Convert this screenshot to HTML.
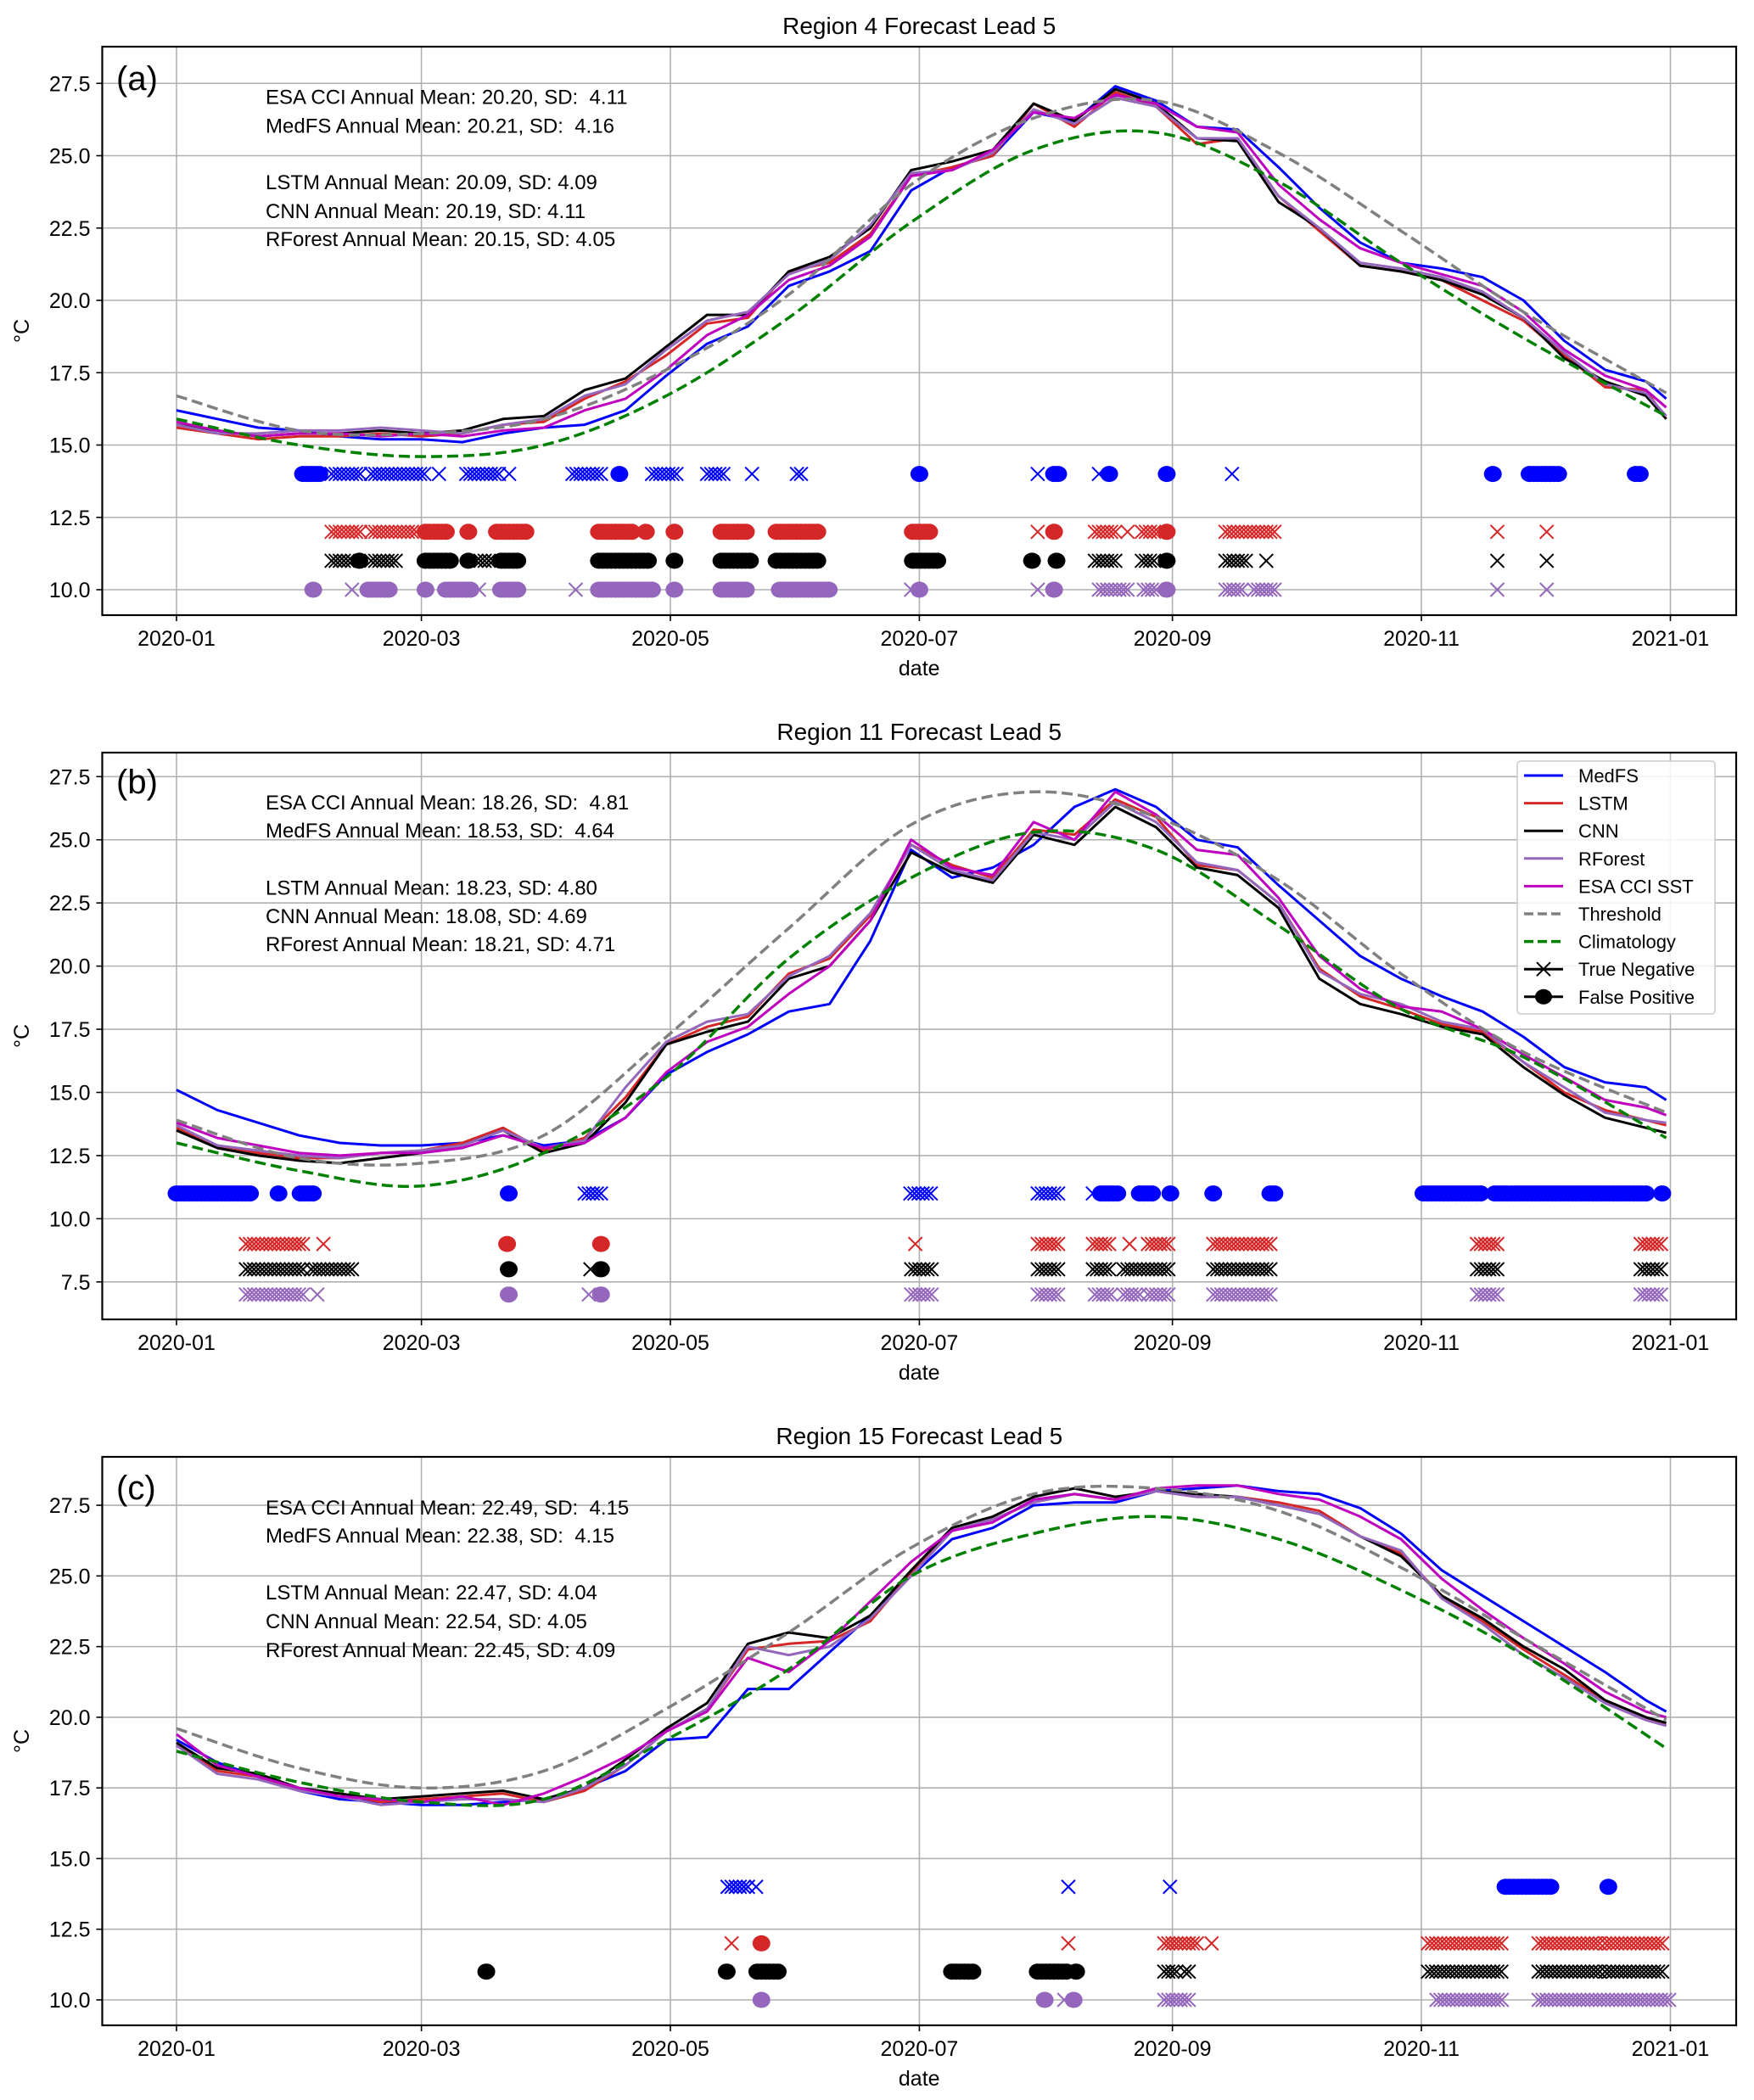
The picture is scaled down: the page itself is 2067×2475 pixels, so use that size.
<!DOCTYPE html>
<html><head><meta charset="utf-8"><style>
html,body{margin:0;padding:0;background:#fff}
svg{display:block}
text{font-family:"Liberation Sans","DejaVu Sans",sans-serif;fill:#000;white-space:pre}
</style></head><body>
<svg id="fig" width="2067" height="2475" viewBox="0 0 2067 2475" xmlns="http://www.w3.org/2000/svg" xml:space="preserve"></svg>
<script>
// ---------- data ----------
const days10 = [0,10,20,30,40,50,60,70,80,90,100,110,120,130,140,150,160,170,180,190,200,210,220,230,240,250,260,270,280,290,300,310,320,330,340,350,360,365];
const daysSmooth = [0,30,60,90,120,150,180,210,240,270,300,330,365];
const xTickDays = [0,60,121,182,244,305,366];
const xTickLabels = ["2020-01","2020-03","2020-05","2020-07","2020-09","2020-11","2021-01"];

const A_med = [16.2,15.9,15.6,15.5,15.3,15.2,15.2,15.1,15.4,15.6,15.7,16.2,17.4,18.5,19.1,20.5,21.0,21.7,23.8,24.6,25.0,26.5,26.2,27.4,26.9,26.0,25.9,24.6,23.2,22.0,21.3,21.1,20.8,20.0,18.6,17.6,17.2,16.6];
const A_lstm = [15.6,15.4,15.2,15.3,15.3,15.4,15.3,15.4,15.7,15.8,16.6,17.2,18.1,19.2,19.4,21.0,21.3,22.3,24.3,24.6,25.0,26.8,26.0,27.2,26.7,25.4,25.6,23.6,22.4,21.2,21.0,20.7,20.0,19.3,18.1,17.0,16.9,15.9];
const A_cnn = [15.7,15.5,15.3,15.4,15.4,15.5,15.4,15.5,15.9,16.0,16.9,17.3,18.4,19.5,19.5,21.0,21.5,22.5,24.5,24.8,25.2,26.8,26.2,27.3,26.8,25.6,25.5,23.4,22.5,21.2,21.0,20.7,20.2,19.4,18.0,17.2,16.7,15.9];
const A_rf = [15.7,15.4,15.4,15.5,15.5,15.6,15.5,15.4,15.7,15.9,16.7,17.1,18.3,19.3,19.6,20.9,21.4,22.6,24.4,24.5,25.1,26.6,26.1,27.0,26.7,25.6,25.6,23.6,22.5,21.3,21.1,20.8,20.3,19.4,18.2,17.1,16.8,16.0];
const A_esa = [15.8,15.5,15.3,15.4,15.4,15.3,15.4,15.3,15.5,15.6,16.2,16.6,17.6,18.8,19.5,20.7,21.2,22.2,24.3,24.5,25.2,26.5,26.3,27.1,26.8,26.0,25.8,24.0,22.8,21.8,21.3,20.9,20.5,19.6,18.3,17.4,16.9,16.3];
const A_thr = [16.7,15.5,15.4,15.9,17.6,20.2,24.0,26.3,26.9,25.1,22.4,19.6,16.8];
const A_clim = [15.9,15.0,14.6,15.0,16.7,19.4,22.7,25.2,25.8,24.1,21.3,18.7,16.0];

const B_med = [15.1,14.3,13.8,13.3,13.0,12.9,12.9,13.0,13.3,12.9,13.1,14.0,15.7,16.6,17.3,18.2,18.5,21.0,24.6,23.5,23.9,24.8,26.3,27.0,26.3,25.0,24.7,23.2,21.8,20.4,19.5,18.8,18.2,17.2,16.0,15.4,15.2,14.7];
const B_lstm = [13.6,12.9,12.6,12.4,12.4,12.6,12.7,13.0,13.6,12.7,13.2,14.8,16.9,17.6,18.0,19.7,20.3,22.0,24.8,24.0,23.5,25.4,25.2,26.6,25.9,24.0,23.8,22.5,19.9,18.8,18.3,17.7,17.4,16.2,15.0,14.3,13.9,13.7];
const B_cnn = [13.5,12.8,12.5,12.3,12.2,12.4,12.6,12.9,13.5,12.6,13.0,14.6,16.9,17.4,17.8,19.5,20.0,21.8,24.5,23.7,23.3,25.2,24.8,26.3,25.5,23.9,23.6,22.3,19.5,18.5,18.1,17.6,17.3,16.0,14.9,14.0,13.6,13.4];
const B_rf = [13.7,12.9,12.7,12.5,12.4,12.6,12.7,12.9,13.5,12.8,13.1,15.2,17.0,17.8,18.1,19.6,20.4,22.1,24.8,23.8,23.4,25.3,25.0,26.5,25.7,24.1,23.8,22.5,19.8,18.9,18.5,17.8,17.5,16.2,15.2,14.2,13.9,13.8];
const B_esa = [13.8,13.2,12.9,12.6,12.5,12.6,12.6,12.8,13.3,12.8,13.0,14.0,15.8,17.0,17.6,18.9,20.0,21.8,25.0,23.9,23.6,25.7,25.0,26.9,26.0,24.6,24.4,22.7,20.4,19.1,18.4,18.2,17.5,16.5,15.6,14.7,14.4,14.1];
const B_thr = [13.9,12.4,12.2,13.3,17.2,21.5,25.6,26.9,25.9,23.4,19.7,16.6,14.2];
const B_clim = [13.0,11.9,11.3,12.6,15.6,20.3,23.5,25.3,24.6,21.6,18.3,16.4,13.2];

const C_med = [19.2,18.4,17.9,17.4,17.1,17.0,16.9,16.9,17.0,17.1,17.5,18.1,19.2,19.3,21.0,21.0,22.3,23.6,25.0,26.3,26.7,27.5,27.6,27.6,28.0,28.1,28.2,28.0,27.9,27.4,26.5,25.2,24.3,23.4,22.5,21.6,20.6,20.2];
const C_lstm = [19.0,18.1,17.9,17.4,17.3,17.0,17.1,17.2,17.3,17.0,17.4,18.3,19.5,20.3,22.4,22.6,22.7,23.4,25.1,26.6,27.0,27.6,27.9,27.7,28.0,27.8,27.8,27.6,27.3,26.4,25.8,24.3,23.4,22.4,21.5,20.6,20.0,19.7];
const C_cnn = [19.1,18.2,18.0,17.5,17.3,17.1,17.2,17.3,17.4,17.1,17.5,18.5,19.6,20.5,22.6,23.0,22.8,23.6,25.2,26.7,27.1,27.8,28.1,27.8,28.0,27.9,27.8,27.5,27.2,26.4,25.7,24.3,23.5,22.5,21.7,20.6,20.0,19.8];
const C_rf = [19.0,18.0,17.8,17.4,17.2,16.9,17.0,17.1,17.1,17.0,17.5,18.3,19.5,20.3,22.5,22.2,22.5,23.5,25.0,26.6,27.0,27.6,27.9,27.7,28.0,27.8,27.8,27.5,27.2,26.4,25.9,24.2,23.3,22.2,21.4,20.5,19.9,19.7];
const C_esa = [19.4,18.3,17.9,17.5,17.2,17.1,17.0,17.2,16.9,17.3,17.9,18.6,19.5,20.2,22.1,21.6,22.7,24.1,25.5,26.6,26.9,27.7,27.9,27.7,28.1,28.2,28.2,27.9,27.7,27.1,26.3,24.9,23.8,22.8,21.9,20.9,20.2,20.0];
const C_thr = [19.6,18.2,17.5,18.1,20.3,23.0,26.0,27.9,28.1,27.3,25.3,22.8,19.9];
const C_clim = [18.8,17.7,17.0,17.1,19.2,21.7,25.0,26.5,27.1,26.3,24.5,22.2,18.9];

// marker rows: [startDay, endDay, type]
const A_blueEv = [[31,35.5,'o'],[38,45,'x'],[47.7,61.5,'x'],[64.3,64.3,'x'],[71,79,'x'],[81.5,81.5,'x'],[97,104,'x'],[108.5,108.5,'o'],[116.5,123,'x'],[130,134,'x'],[141,141,'x'],[152,153,'x'],[182,182,'o'],[211,211,'x'],[215,216.5,'o'],[226,226,'x'],[228.5,228.5,'o'],[242.6,242.6,'o'],[258.6,258.6,'x'],[322.5,322.5,'o'],[331.5,339,'o'],[357.5,358.5,'o']];
const A_redEv = [[38,45,'x'],[47.7,59.5,'x'],[61,66,'o'],[71.5,71.5,'o'],[78.5,85.5,'o'],[103.5,111.5,'o'],[115,115,'o'],[122,122,'o'],[133.5,139.5,'o'],[147,157.4,'o'],[180.4,185.2,'o'],[211,211,'x'],[215,215,'o'],[225,230,'x'],[233,233,'x'],[236.5,241,'x'],[242.6,242.6,'o'],[257,269.5,'x'],[323.6,323.6,'x'],[335.7,335.7,'x']];
const A_blackEv = [[38,43,'x'],[44.8,44.8,'o'],[47.7,54,'x'],[61,67,'o'],[71.5,71.5,'o'],[73.5,77.5,'x'],[79.5,84,'o'],[103.5,115.5,'o'],[122,122,'o'],[133.5,141,'o'],[147,157.4,'o'],[180.4,186.6,'o'],[209.6,209.6,'o'],[215.6,215.6,'o'],[225,230,'x'],[236.5,240,'x'],[242.6,242.6,'o'],[257,262,'x'],[267,267,'x'],[323.6,323.6,'x'],[335.7,335.7,'x']];
const A_purpleEv = [[33.5,33.5,'o'],[43,43,'x'],[47,52.5,'o'],[61,61,'o'],[66,72,'o'],[74.1,74.1,'x'],[79.5,84.2,'o'],[97.8,97.8,'x'],[103.5,116.5,'o'],[122,122,'o'],[133.5,139.5,'o'],[147.8,160,'o'],[180,180,'x'],[182,182,'o'],[211,211,'x'],[215,215,'o'],[226,233.5,'x'],[237,240.5,'x'],[242.6,242.6,'o'],[257,261.5,'x'],[264,269,'x'],[323.6,323.6,'x'],[335.7,335.7,'x']];

const B_blueEv = [[0,18.4,'o'],[25,25,'o'],[30.4,34,'o'],[81.4,81.4,'o'],[100,104.6,'x'],[179.8,185.2,'x'],[211,216,'x'],[224.5,224.5,'x'],[226.5,231.3,'o'],[236,239,'o'],[243.5,243.5,'o'],[254,254,'o'],[268,269,'o'],[305.5,320,'o'],[323,360,'o'],[364,364,'o']];
const B_redEv = [[17,31.5,'x'],[36,36,'x'],[81,81,'o'],[104,104,'o'],[181,181,'x'],[211,216,'x'],[224.5,229.3,'x'],[233.5,233.5,'x'],[238,243.7,'x'],[254,268.8,'x'],[318.6,324,'x'],[358.7,364.2,'x']];
const B_blackEv = [[17,31.5,'x'],[33,43.5,'x'],[81.4,81.4,'o'],[101.4,101.4,'x'],[104,104,'o'],[180,185,'x'],[211,216,'x'],[224.5,229.3,'x'],[232,237,'x'],[238,243.7,'x'],[254,268.8,'x'],[318.6,324,'x'],[358.7,364.2,'x']];
const B_purpleEv = [[17,31.5,'x'],[34.5,34.5,'x'],[81.4,81.4,'o'],[101,101,'x'],[104,104,'o'],[180,185,'x'],[211,216,'x'],[225,229.3,'x'],[232,236,'x'],[238,243.7,'x'],[254,268.8,'x'],[318.6,324,'x'],[358.7,364.2,'x']];

const C_blueEv = [[135,140,'x'],[142,142,'x'],[218.5,218.5,'x'],[243.4,243.4,'x'],[325.6,336.6,'o'],[350.8,350.8,'o']];
const C_redEv = [[136,136,'x'],[143.3,143.3,'o'],[218.5,218.5,'x'],[242,250,'x'],[253.6,253.6,'x'],[306.6,325,'x'],[333.7,348.8,'x'],[350,364.5,'x']];
const C_blackEv = [[75.9,75.9,'o'],[134.8,134.8,'o'],[142.3,148,'o'],[190,195,'o'],[211,218,'o'],[220.4,220.4,'o'],[242,245,'x'],[247,248.8,'x'],[306.6,325,'x'],[333.7,348.8,'x'],[350,364,'x']];
const C_purpleEv = [[143.3,143.3,'o'],[212.7,212.7,'o'],[217.5,217.5,'x'],[219.8,219.8,'o'],[242,248,'x'],[308.7,325,'x'],[333.7,366,'x']];

const A_yTicks = [10,12.5,15,17.5,20,22.5,25,27.5];
const B_yTicks = [7.5,10,12.5,15,17.5,20,22.5,25,27.5];
const C_yTicks = [10,12.5,15,17.5,20,22.5,25,27.5];
const A_rowVals = [14,12,11,10];
const B_rowVals = [11,9,8,7];
const C_rowVals = [14,12,11,10];

const A_text = ["ESA CCI Annual Mean: 20.20, SD:  4.11","MedFS Annual Mean: 20.21, SD:  4.16","LSTM Annual Mean: 20.09, SD: 4.09","CNN Annual Mean: 20.19, SD: 4.11","RForest Annual Mean: 20.15, SD: 4.05"];
const B_text = ["ESA CCI Annual Mean: 18.26, SD:  4.81","MedFS Annual Mean: 18.53, SD:  4.64","LSTM Annual Mean: 18.23, SD: 4.80","CNN Annual Mean: 18.08, SD: 4.69","RForest Annual Mean: 18.21, SD: 4.71"];
const C_text = ["ESA CCI Annual Mean: 22.49, SD:  4.15","MedFS Annual Mean: 22.38, SD:  4.15","LSTM Annual Mean: 22.47, SD: 4.04","CNN Annual Mean: 22.54, SD: 4.05","RForest Annual Mean: 22.45, SD: 4.09"];

// ---------- drawing ----------
const NS = "http://www.w3.org/2000/svg";
const svg = document.getElementById('fig');
const L = 120.5, R = 2046, X0 = 208, PXD = 4.81;
const COL = {med:'#0000ff', lstm:'#d62728', cnn:'#000000', rf:'#9467bd', esa:'#bf00bf', thr:'#808080', clim:'#008000'};
function xs(d){ return X0 + d*PXD; }
function mk(tag, attrs, parent){ const e = document.createElementNS(NS, tag); for (const k in attrs) e.setAttribute(k, attrs[k]); (parent||svg).appendChild(e); return e; }

function linePath(ds, vs, ys){ return ds.map((d,i)=>(i?'L':'M')+xs(d).toFixed(1)+','+ys(vs[i]).toFixed(1)).join(''); }
function smoothPath(ds, vs, ys){
  const p = ds.map((d,i)=>[xs(d), ys(vs[i])]);
  let s = 'M'+p[0][0].toFixed(1)+','+p[0][1].toFixed(1);
  for (let i=0;i<p.length-1;i++){
    const p0=p[Math.max(0,i-1)], p1=p[i], p2=p[i+1], p3=p[Math.min(p.length-1,i+2)];
    const c1=[p1[0]+(p2[0]-p0[0])/6, p1[1]+(p2[1]-p0[1])/6];
    const c2=[p2[0]-(p3[0]-p1[0])/6, p2[1]-(p3[1]-p1[1])/6];
    s += 'C'+c1[0].toFixed(1)+','+c1[1].toFixed(1)+' '+c2[0].toFixed(1)+','+c2[1].toFixed(1)+' '+p2[0].toFixed(1)+','+p2[1].toFixed(1);
  }
  return s;
}

function panel(cfg){
  const g = mk('g', {});
  
  
  const ys = v => cfg.yRef - (v - cfg.vRef)*cfg.ppu;
  cfg.yTicks.forEach(v=>{
    const gl = mk('line',{x1:L,x2:R,y1:ys(v),y2:ys(v),stroke:'#b0b0b0','stroke-width':1.6},g);
    
    
  });
  xTickDays.forEach(d=>{
    const gl = mk('line',{x1:xs(d),x2:xs(d),y1:cfg.top,y2:cfg.bottom,stroke:'#b0b0b0','stroke-width':1.6},g);
    
    
  });
  const series = [['med',cfg.med,'medfs-line'],['lstm',cfg.lstm,'lstm-line'],['cnn',cfg.cnn,'cnn-line'],['rf',cfg.rf,'rforest-line'],['esa',cfg.esa,'esa-cci-sst-line']];
  series.forEach(s=>{
    const p = mk('path',{d:linePath(days10,s[1],ys),fill:'none',stroke:COL[s[0]],'stroke-width':3,'stroke-linejoin':'round'},g);
    
    
  });
  const t = mk('path',{d:smoothPath(daysSmooth,cfg.thr,ys),fill:'none',stroke:COL.thr,'stroke-width':3.5,'stroke-dasharray':'13,6'},g);
  
  
  const c = mk('path',{d:smoothPath(daysSmooth,cfg.clim,ys),fill:'none',stroke:COL.clim,'stroke-width':3.5,'stroke-dasharray':'13,6'},g);
  
  
  const rows = [[cfg.blueEv,COL.med,'medfs-events'],[cfg.redEv,COL.lstm,'lstm-events'],[cfg.blackEv,COL.cnn,'cnn-events'],[cfg.purpleEv,COL.rf,'rforest-events']];
  rows.forEach((r,ri)=>{
    const rg = mk('g',{},g);
    
    
    const y = ys(cfg.rowVals[ri]);
    r[0].forEach(seg=>{
      for (let d=seg[0]; d<=seg[1]+0.001; d+=1){
        const x = xs(d);
        if (seg[2]==='o'){
          const m = mk('ellipse',{cx:x,cy:y,rx:10.5,ry:9.5,fill:r[1]},rg);
          
          
        } else {
          const m = mk('path',{d:`M${x-8},${y-8}L${x+8},${y+8}M${x-8},${y+8}L${x+8},${y-8}`,stroke:r[1],'stroke-width':2,fill:'none'},rg);
          
          
        }
        if (seg[1]===seg[0]) break;
      }
    });
  });
  const sp = mk('rect',{x:L,y:cfg.top,width:R-L,height:cfg.bottom-cfg.top,fill:'none',stroke:'#000','stroke-width':2.2},g);
  
  
  cfg.yTicks.forEach(v=>{
    mk('line',{x1:L-7,x2:L,y1:ys(v),y2:ys(v),stroke:'#000','stroke-width':1.6},g);
    const tl = mk('text',{x:L-14,y:ys(v)+9,'text-anchor':'end','font-size':25},g);
    tl.textContent = v.toFixed(1);
    
    
  });
  xTickDays.forEach((d,i)=>{
    mk('line',{x1:xs(d),x2:xs(d),y1:cfg.bottom,y2:cfg.bottom+7,stroke:'#000','stroke-width':1.6},g);
    const tl = mk('text',{x:xs(d),y:cfg.bottom+36,'text-anchor':'middle','font-size':25},g);
    tl.textContent = xTickLabels[i];
    
    
  });
  const xl = mk('text',{x:(L+R)/2,y:cfg.bottom+71,'text-anchor':'middle','font-size':25},g);
  xl.textContent='date';
  
  
  const cy = (cfg.top+cfg.bottom)/2;
  const yl = mk('text',{x:34,y:cy,'text-anchor':'middle','font-size':25,transform:`rotate(-90 34 ${cy})`},g);
  yl.textContent='°C';
  
  
  const ti = mk('text',{x:(L+R)/2,y:cfg.top-15,'text-anchor':'middle','font-size':28},g);
  ti.textContent = cfg.title;
  
  
  const lb = mk('text',{x:137,y:cfg.labelY,'font-size':40},g);
  lb.textContent = cfg.label;
  
  
  cfg.text.forEach((s,i)=>{
    const at = mk('text',{x:313,y:cfg.textY[i]+9,'font-size':24},g);
    at.textContent = s;
    
    
  });
}

panel({name:'panel-a',title:'Region 4 Forecast Lead 5',label:'(a)',top:55,bottom:725,yRef:695,vRef:10,ppu:34.1,yTicks:A_yTicks,rowVals:A_rowVals,
  med:A_med,lstm:A_lstm,cnn:A_cnn,rf:A_rf,esa:A_esa,thr:A_thr,clim:A_clim,
  blueEv:A_blueEv,redEv:A_redEv,blackEv:A_blackEv,purpleEv:A_purpleEv,text:A_text,textY:[113.5,147.5,214,248,281],labelY:106});
panel({name:'panel-b',title:'Region 11 Forecast Lead 5',label:'(b)',top:887,bottom:1555,yRef:1510.8,vRef:7.5,ppu:29.775,yTicks:B_yTicks,rowVals:B_rowVals,
  med:B_med,lstm:B_lstm,cnn:B_cnn,rf:B_rf,esa:B_esa,thr:B_thr,clim:B_clim,
  blueEv:B_blueEv,redEv:B_redEv,blackEv:B_blackEv,purpleEv:B_purpleEv,text:B_text,textY:[945,978,1045.5,1079,1112],labelY:935});
panel({name:'panel-c',title:'Region 15 Forecast Lead 5',label:'(c)',top:1717,bottom:2387,yRef:2357,vRef:10,ppu:33.31,yTicks:C_yTicks,rowVals:C_rowVals,
  med:C_med,lstm:C_lstm,cnn:C_cnn,rf:C_rf,esa:C_esa,thr:C_thr,clim:C_clim,
  blueEv:C_blueEv,redEv:C_redEv,blackEv:C_blackEv,purpleEv:C_purpleEv,text:C_text,textY:[1776,1809,1876,1910,1944],labelY:1767});

// legend (panel b)
const legendNames = ['MedFS','LSTM','CNN','RForest','ESA CCI SST','Threshold','Climatology','True Negative','False Positive'];
const legendColors = [COL.med,COL.lstm,COL.cnn,COL.rf,COL.esa,COL.thr,COL.clim,'#000','#000'];
const legendStyles = ['solid','solid','solid','solid','solid','dash','dash','x','o'];
const lg = mk('g',{});


mk('rect',{x:1788,y:897,width:233,height:298,rx:4,fill:'#fff','fill-opacity':0.85,stroke:'#cccccc','stroke-width':1.6},lg);
legendNames.forEach((n,i)=>{
  const y = 914 + i*32.6;
  const eg = mk('g',{},lg);
  
  
  const attrs = {x1:1796,x2:1842,y1:y,y2:y,stroke:legendColors[i],'stroke-width':3};
  if (legendStyles[i]==='dash'){ attrs['stroke-dasharray']='11,5'; attrs['stroke-width']=3.5; }
  mk('line',attrs,eg);
  if (legendStyles[i]==='x') mk('path',{d:`M1811,${y-8}L1827,${y+8}M1811,${y+8}L1827,${y-8}`,stroke:'#000','stroke-width':2},eg);
  if (legendStyles[i]==='o') mk('ellipse',{cx:1819,cy:y,rx:10,ry:9,fill:'#000'},eg);
  const tx = mk('text',{x:1860,y:y+8,'font-size':22},eg);
  tx.textContent = n;
});
</script>
</body></html>
